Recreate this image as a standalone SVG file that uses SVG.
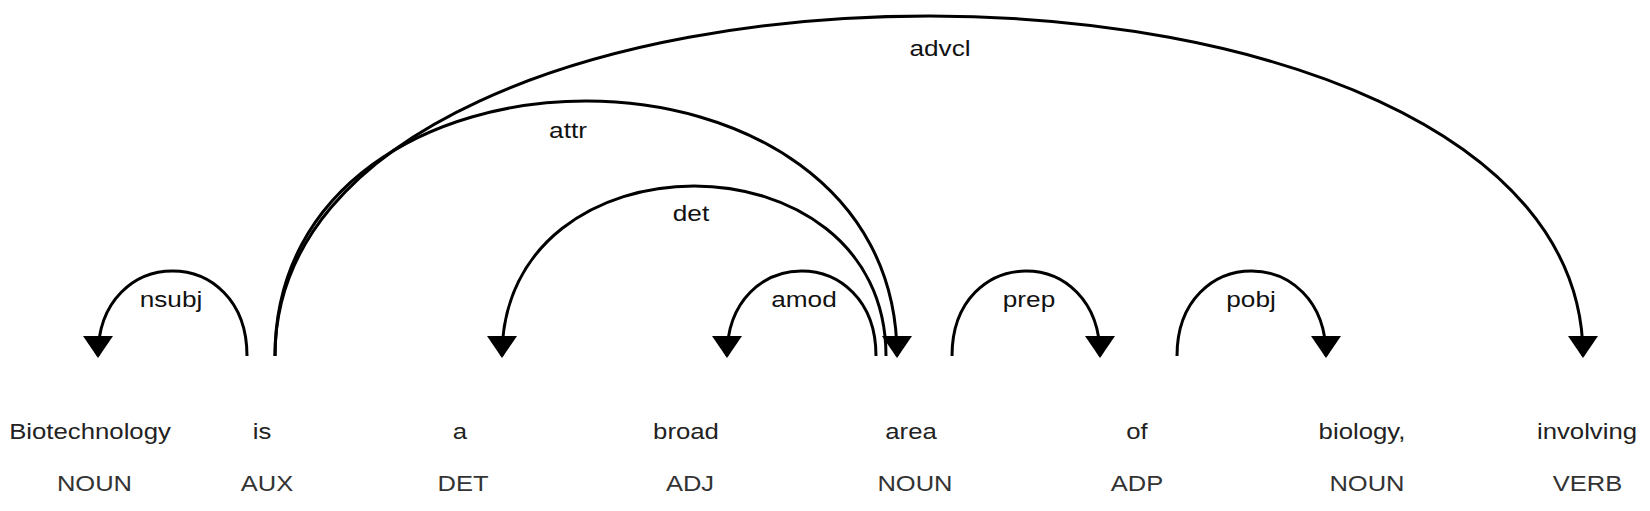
<svg xmlns="http://www.w3.org/2000/svg" width="1650" height="511" viewBox="0 0 1650 511">
<style>
.word{font-family:"Liberation Sans",Arial,sans-serif;font-size:22px;fill:#222;text-anchor:middle}
.tag{font-family:"Liberation Sans",Arial,sans-serif;font-size:22px;fill:#333;text-anchor:middle}
.lbl{font-family:"Liberation Sans",Arial,sans-serif;font-size:22px;fill:#111;text-anchor:middle}
.arc{fill:none;stroke:#000;stroke-width:3}
.head{fill:#000;stroke:none}
</style>
<rect width="1650" height="511" fill="#fff"/>
<g id="connectors">
  <g id="arc-nsubj">
    <path class="arc" d="M247,356 C247,242.7 98,242.7 98,356"/>
    <path class="head" d="M98,358 L83,336 L113,336 Z"/>
    <text class="lbl" transform="translate(171,307) scale(1.19,1)">nsubj</text>
  </g>
  <g id="arc-advcl">
    <path class="arc" d="M275,356 C275,-97.2 1583,-97.2 1583,356"/>
    <path class="head" d="M1583,358 L1568,336 L1598,336 Z"/>
    <text class="lbl" transform="translate(940,56) scale(1.19,1)">advcl</text>
  </g>
  <g id="arc-attr">
    <path class="arc" d="M275,356 C275,16 897,16 897,356"/>
    <path class="head" d="M897,358 L882,336 L912,336 Z"/>
    <text class="lbl" transform="translate(568,138) scale(1.19,1)">attr</text>
  </g>
  <g id="arc-det">
    <path class="arc" d="M502,356 C502,129.3 886,129.3 886,356"/>
    <path class="head" d="M502,358 L487,336 L517,336 Z"/>
    <text class="lbl" transform="translate(691,221) scale(1.19,1)">det</text>
  </g>
  <g id="arc-amod">
    <path class="arc" d="M727,356 C727,242.7 876,242.7 876,356"/>
    <path class="head" d="M727,358 L712,336 L742,336 Z"/>
    <text class="lbl" transform="translate(804,307) scale(1.19,1)">amod</text>
  </g>
  <g id="arc-prep">
    <path class="arc" d="M952,356 C952,242.7 1100,242.7 1100,356"/>
    <path class="head" d="M1100,358 L1085,336 L1115,336 Z"/>
    <text class="lbl" transform="translate(1029,307) scale(1.19,1)">prep</text>
  </g>
  <g id="arc-pobj">
    <path class="arc" d="M1177,356 C1177,242.7 1326,242.7 1326,356"/>
    <path class="head" d="M1326,358 L1311,336 L1341,336 Z"/>
    <text class="lbl" transform="translate(1251,307) scale(1.19,1)">pobj</text>
  </g>
</g>
<g id="w0"><text class="word" transform="translate(90,439) scale(1.17,1)">Biotechnology</text><text class="tag" transform="translate(94.5,491) scale(1.16,1)">NOUN</text></g>
<g id="w1"><text class="word" transform="translate(262,439) scale(1.17,1)">is</text><text class="tag" transform="translate(267,491) scale(1.16,1)">AUX</text></g>
<g id="w2"><text class="word" transform="translate(460,439) scale(1.17,1)">a</text><text class="tag" transform="translate(463,491) scale(1.16,1)">DET</text></g>
<g id="w3"><text class="word" transform="translate(686,439) scale(1.17,1)">broad</text><text class="tag" transform="translate(690,491) scale(1.16,1)">ADJ</text></g>
<g id="w4"><text class="word" transform="translate(911,439) scale(1.17,1)">area</text><text class="tag" transform="translate(915,491) scale(1.16,1)">NOUN</text></g>
<g id="w5"><text class="word" transform="translate(1137,439) scale(1.17,1)">of</text><text class="tag" transform="translate(1137,491) scale(1.16,1)">ADP</text></g>
<g id="w6"><text class="word" transform="translate(1362,439) scale(1.17,1)">biology,</text><text class="tag" transform="translate(1367,491) scale(1.16,1)">NOUN</text></g>
<g id="w7"><text class="word" transform="translate(1587,439) scale(1.17,1)">involving</text><text class="tag" transform="translate(1587.5,491) scale(1.16,1)">VERB</text></g>
</svg>
